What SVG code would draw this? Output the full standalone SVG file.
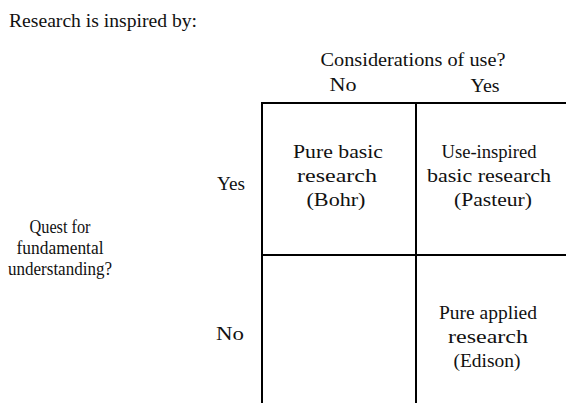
<svg xmlns="http://www.w3.org/2000/svg" width="566" height="403" viewBox="0 0 566 403">
<style>
text{font-family:"Liberation Serif","Times New Roman",serif;font-size:18px;fill:#111}
.c{text-anchor:middle}
.ln{stroke:#000;stroke-width:2;fill:none}
</style>
<rect width="566" height="403" fill="#fff"/>
<g id="title"><text x="9" y="27" textLength="188" lengthAdjust="spacingAndGlyphs">Research is inspired by:</text></g>
<g id="col-header">
<text class="c" x="413" y="66" textLength="185" lengthAdjust="spacingAndGlyphs">Considerations of use?</text>
<text class="c" x="343" y="91" textLength="27" lengthAdjust="spacingAndGlyphs">No</text>
<text class="c" x="485" y="92" textLength="29" lengthAdjust="spacingAndGlyphs">Yes</text>
</g>
<g id="row-header">
<text class="c" x="60" y="233" textLength="61" lengthAdjust="spacingAndGlyphs">Quest for</text>
<text class="c" x="60" y="254" textLength="87" lengthAdjust="spacingAndGlyphs">fundamental</text>
<text class="c" x="60" y="275" textLength="104" lengthAdjust="spacingAndGlyphs">understanding?</text>
<text class="c" x="231" y="190" textLength="28" lengthAdjust="spacingAndGlyphs">Yes</text>
<text class="c" x="230" y="340" textLength="28" lengthAdjust="spacingAndGlyphs">No</text>
</g>
<g id="connectors">
<path class="ln" d="M262 403V103H566M416 103V403M262 255H566"/>
</g>
<g id="bohr">
<text class="c" x="338" y="158" textLength="90" lengthAdjust="spacingAndGlyphs">Pure basic</text>
<text class="c" x="337" y="182" textLength="80" lengthAdjust="spacingAndGlyphs">research</text>
<text class="c" x="336" y="206" textLength="59" lengthAdjust="spacingAndGlyphs">(Bohr)</text>
</g>
<g id="pasteur">
<text class="c" x="489" y="158" textLength="95" lengthAdjust="spacingAndGlyphs">Use-inspired</text>
<text class="c" x="489" y="182" textLength="124" lengthAdjust="spacingAndGlyphs">basic research</text>
<text class="c" x="493" y="206" textLength="78" lengthAdjust="spacingAndGlyphs">(Pasteur)</text>
</g>
<g id="edison">
<text class="c" x="488" y="319" textLength="98" lengthAdjust="spacingAndGlyphs">Pure applied</text>
<text class="c" x="488" y="343" textLength="80" lengthAdjust="spacingAndGlyphs">research</text>
<text class="c" x="487" y="367" textLength="67" lengthAdjust="spacingAndGlyphs">(Edison)</text>
</g>
</svg>
